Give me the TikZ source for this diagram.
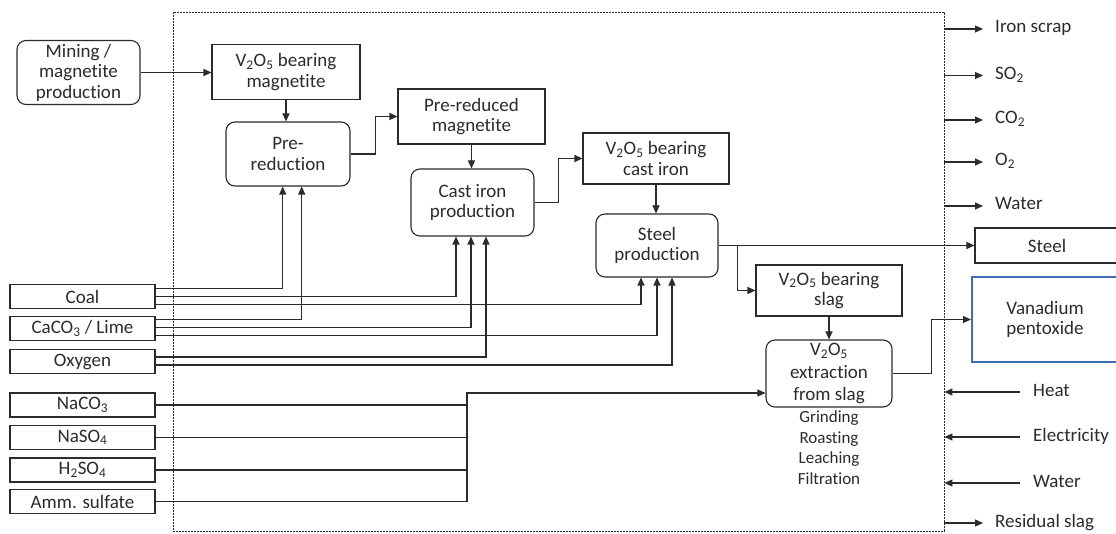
\documentclass[tikz,border=0pt]{standalone}
\usepackage{fontspec}
\setmainfont{Carlito}[Ligatures=NoCommon]
\usetikzlibrary{
  arrows.meta,
  positioning
}
\usepackage{xcolor}
\definecolor{inkgray}{HTML}{2B2B2B}
\definecolor{vpblue}{HTML}{3F6FB8}
\newcommand{\vofive}{V\textsubscript{2}O\textsubscript{5}}

\begin{document}
\begin{tikzpicture}[
  x=1pt, y=-1pt,
  every node/.style={
    text=inkgray,
    font=\fontsize{19}{20.5}\selectfont,
  },
  plainbox/.style={
    draw=inkgray,
    line width=1.1pt,
    rectangle,
    align=center,
    inner sep=1pt,
  },
  procbox/.style={plainbox, rounded corners=9pt},
  inbox/.style={plainbox, minimum width=145pt, minimum height=24pt},
  sidelbl/.style={anchor=west, inner sep=0pt, text height=12pt, text depth=4pt},
  flow/.style={draw=inkgray, line width=1.1pt, -{Triangle[length=8pt,width=7pt]}},
  feed/.style={draw=inkgray, line width=1.1pt},
  ]

  \useasboundingbox (0,0) rectangle (1116,534);
  \fill[white] (0,0) rectangle (1116,534);

  % system boundary
  \node[draw=inkgray, line width=0.9pt, dash pattern=on 2pt off 1pt, minimum width=771pt, minimum height=519pt, inner sep=0pt] (frame) at (558.5,271.5) {};

  % main process chain
  \node[procbox, minimum width=123pt, minimum height=64pt] (mining) at (78.5,72.5) {Mining /\\magnetite\\production};
  \node[plainbox, minimum width=148pt, minimum height=55pt] (vomag) at (286,72) {\vofive{} bearing\\magnetite};
  \node[procbox, minimum width=124pt, minimum height=64pt] (prered) at (288,154) {Pre-\\reduction};
  \node[plainbox, minimum width=147pt, minimum height=55pt] (premag) at (471.5,116.5) {Pre-reduced\\magnetite};
  \node[procbox, minimum width=123pt, minimum height=67pt] (castiron) at (472.5,202.5) {Cast iron\\production};
  \node[plainbox, minimum width=146pt, minimum height=51pt] (vocast) at (656,158.5) {\vofive{} bearing\\cast iron};
  \node[procbox, minimum width=122pt, minimum height=63pt] (steelprod) at (657,245.5) {Steel\\production};
  \node[plainbox, minimum width=146pt, minimum height=51pt] (voslag) at (829,290.5) {\vofive{} bearing\\slag};
  \node[procbox, minimum width=126pt, minimum height=67pt, font=\fontsize{19}{22.5}\selectfont] (extract) at (829,373.5) {\vofive\\extraction\\from slag};
  \node[below=0pt of extract, align=center, font=\fontsize{17}{20.5}\selectfont] (steps) {Grinding\\Roasting\\Leaching\\Filtration};

  % products
  \node[plainbox, minimum width=144pt, minimum height=35pt] (steelout) at (1047,245.5) {Steel};
  \node[plainbox, draw=vpblue, line width=2pt, minimum width=146pt, minimum height=85pt] (vanadium) at (1045,319.5) {Vanadium\\pentoxide};

  % raw material inputs
  \node[inbox] (coal) at (82.5,296.5) {Coal};
  \node[inbox] (lime) at (82.5,328.5) {CaCO\textsubscript{3} / Lime};
  \node[inbox] (oxygen) at (82.5,361.5) {Oxygen};
  \node[inbox] (naco) at (82.5,405) {NaCO\textsubscript{3}};
  \node[inbox] (naso) at (82.5,437.5) {NaSO\textsubscript{4}};
  \node[inbox] (hso) at (82.5,470) {H\textsubscript{2}SO\textsubscript{4}};
  \node[inbox] (amm) at (82.5,501.5) {Amm. sulfate};

  % main flow
  \draw[flow] (mining.east) -- (mining.east -| vomag.west);
  \draw[flow] (vomag.south) -- (vomag.south |- prered.north);
  \draw[flow] (prered.east) -- ++(25pt,0) |- (premag.west);
  \draw[flow] (premag.south) -- (premag.south |- castiron.north);
  \draw[flow] (castiron.east) -- ++(24pt,0) |- (vocast.west);
  \draw[flow] (vocast.south) -- (vocast.south |- steelprod.north);
  \draw[flow] (steelprod.east) -- (steelprod.east -| steelout.west);
  \draw[flow] ([xshift=19pt]steelprod.east) |- (voslag.west);
  \draw[flow] (extract.north |- voslag.south) -- (extract.north);
  \draw[flow] (extract.east) -- ++(39pt,0) |- (vanadium.west);

  % coal, lime and oxygen feeds
  \draw[flow] ([yshift=8pt]coal.east) -| ([xshift=-5.3pt]prered.south);
  \draw[flow] (coal.east) -| ([xshift=-16.5pt]castiron.south);
  \draw[flow] ([yshift=-8pt]coal.east) -| ([xshift=-16pt]steelprod.south);
  \draw[flow] ([yshift=9pt]lime.east) -| ([xshift=13.7pt]prered.south);
  \draw[flow] ([yshift=1pt]lime.east) -| ([xshift=-1.5pt]castiron.south);
  \draw[flow] ([yshift=-7pt]lime.east) -| (steelprod.south);
  \draw[flow] ([yshift=4.5pt]oxygen.east) -| ([xshift=13.5pt]castiron.south);
  \draw[flow] ([yshift=-3.5pt]oxygen.east) -| ([xshift=15pt]steelprod.south);

  % extraction chemicals
  \coordinate (najoin) at (467,393);
  \draw[flow] (amm.east) -| (najoin) -- (najoin -| extract.west);
  \draw[feed] (naco.east) -- (naco.east -| najoin);
  \draw[feed] (naso.east) -- (naso.east -| najoin);
  \draw[feed] (hso.east) -- (hso.east -| najoin);

  % outputs leaving the boundary
  \node[sidelbl] (scrap) at (995,29) {Iron scrap};
  \draw[flow] (frame.east |- scrap.west) -- ([xshift=-12pt]scrap.west);
  \node[sidelbl] (sotwo) at (995,75.5) {SO\textsubscript{2}};
  \draw[flow] (frame.east |- sotwo.west) -- ([xshift=-12pt]sotwo.west);
  \node[sidelbl] (cotwo) at (995,120) {CO\textsubscript{2}};
  \draw[flow] (frame.east |- cotwo.west) -- ([xshift=-12pt]cotwo.west);
  \node[sidelbl] (otwo) at (995,162) {O\textsubscript{2}};
  \draw[flow] (frame.east |- otwo.west) -- ([xshift=-12pt]otwo.west);
  \node[sidelbl] (waterout) at (995,206) {Water};
  \draw[flow] (frame.east |- waterout.west) -- ([xshift=-12pt]waterout.west);
  \node[sidelbl] (resslag) at (995,523) {Residual slag};
  \draw[flow] (frame.east |- resslag.west) -- ([xshift=-12pt]resslag.west);

  % utilities entering the boundary
  \node[sidelbl] (heat) at (1033,392) {Heat};
  \draw[flow] ([xshift=-13pt]heat.west) -- (heat.west -| frame.east);
  \node[sidelbl] (elec) at (1033,437) {Electricity};
  \draw[flow] ([xshift=-13pt]elec.west) -- (elec.west -| frame.east);
  \node[sidelbl] (waterin) at (1033,483) {Water};
  \draw[flow] ([xshift=-13pt]waterin.west) -- (waterin.west -| frame.east);

\end{tikzpicture}
\end{document}
